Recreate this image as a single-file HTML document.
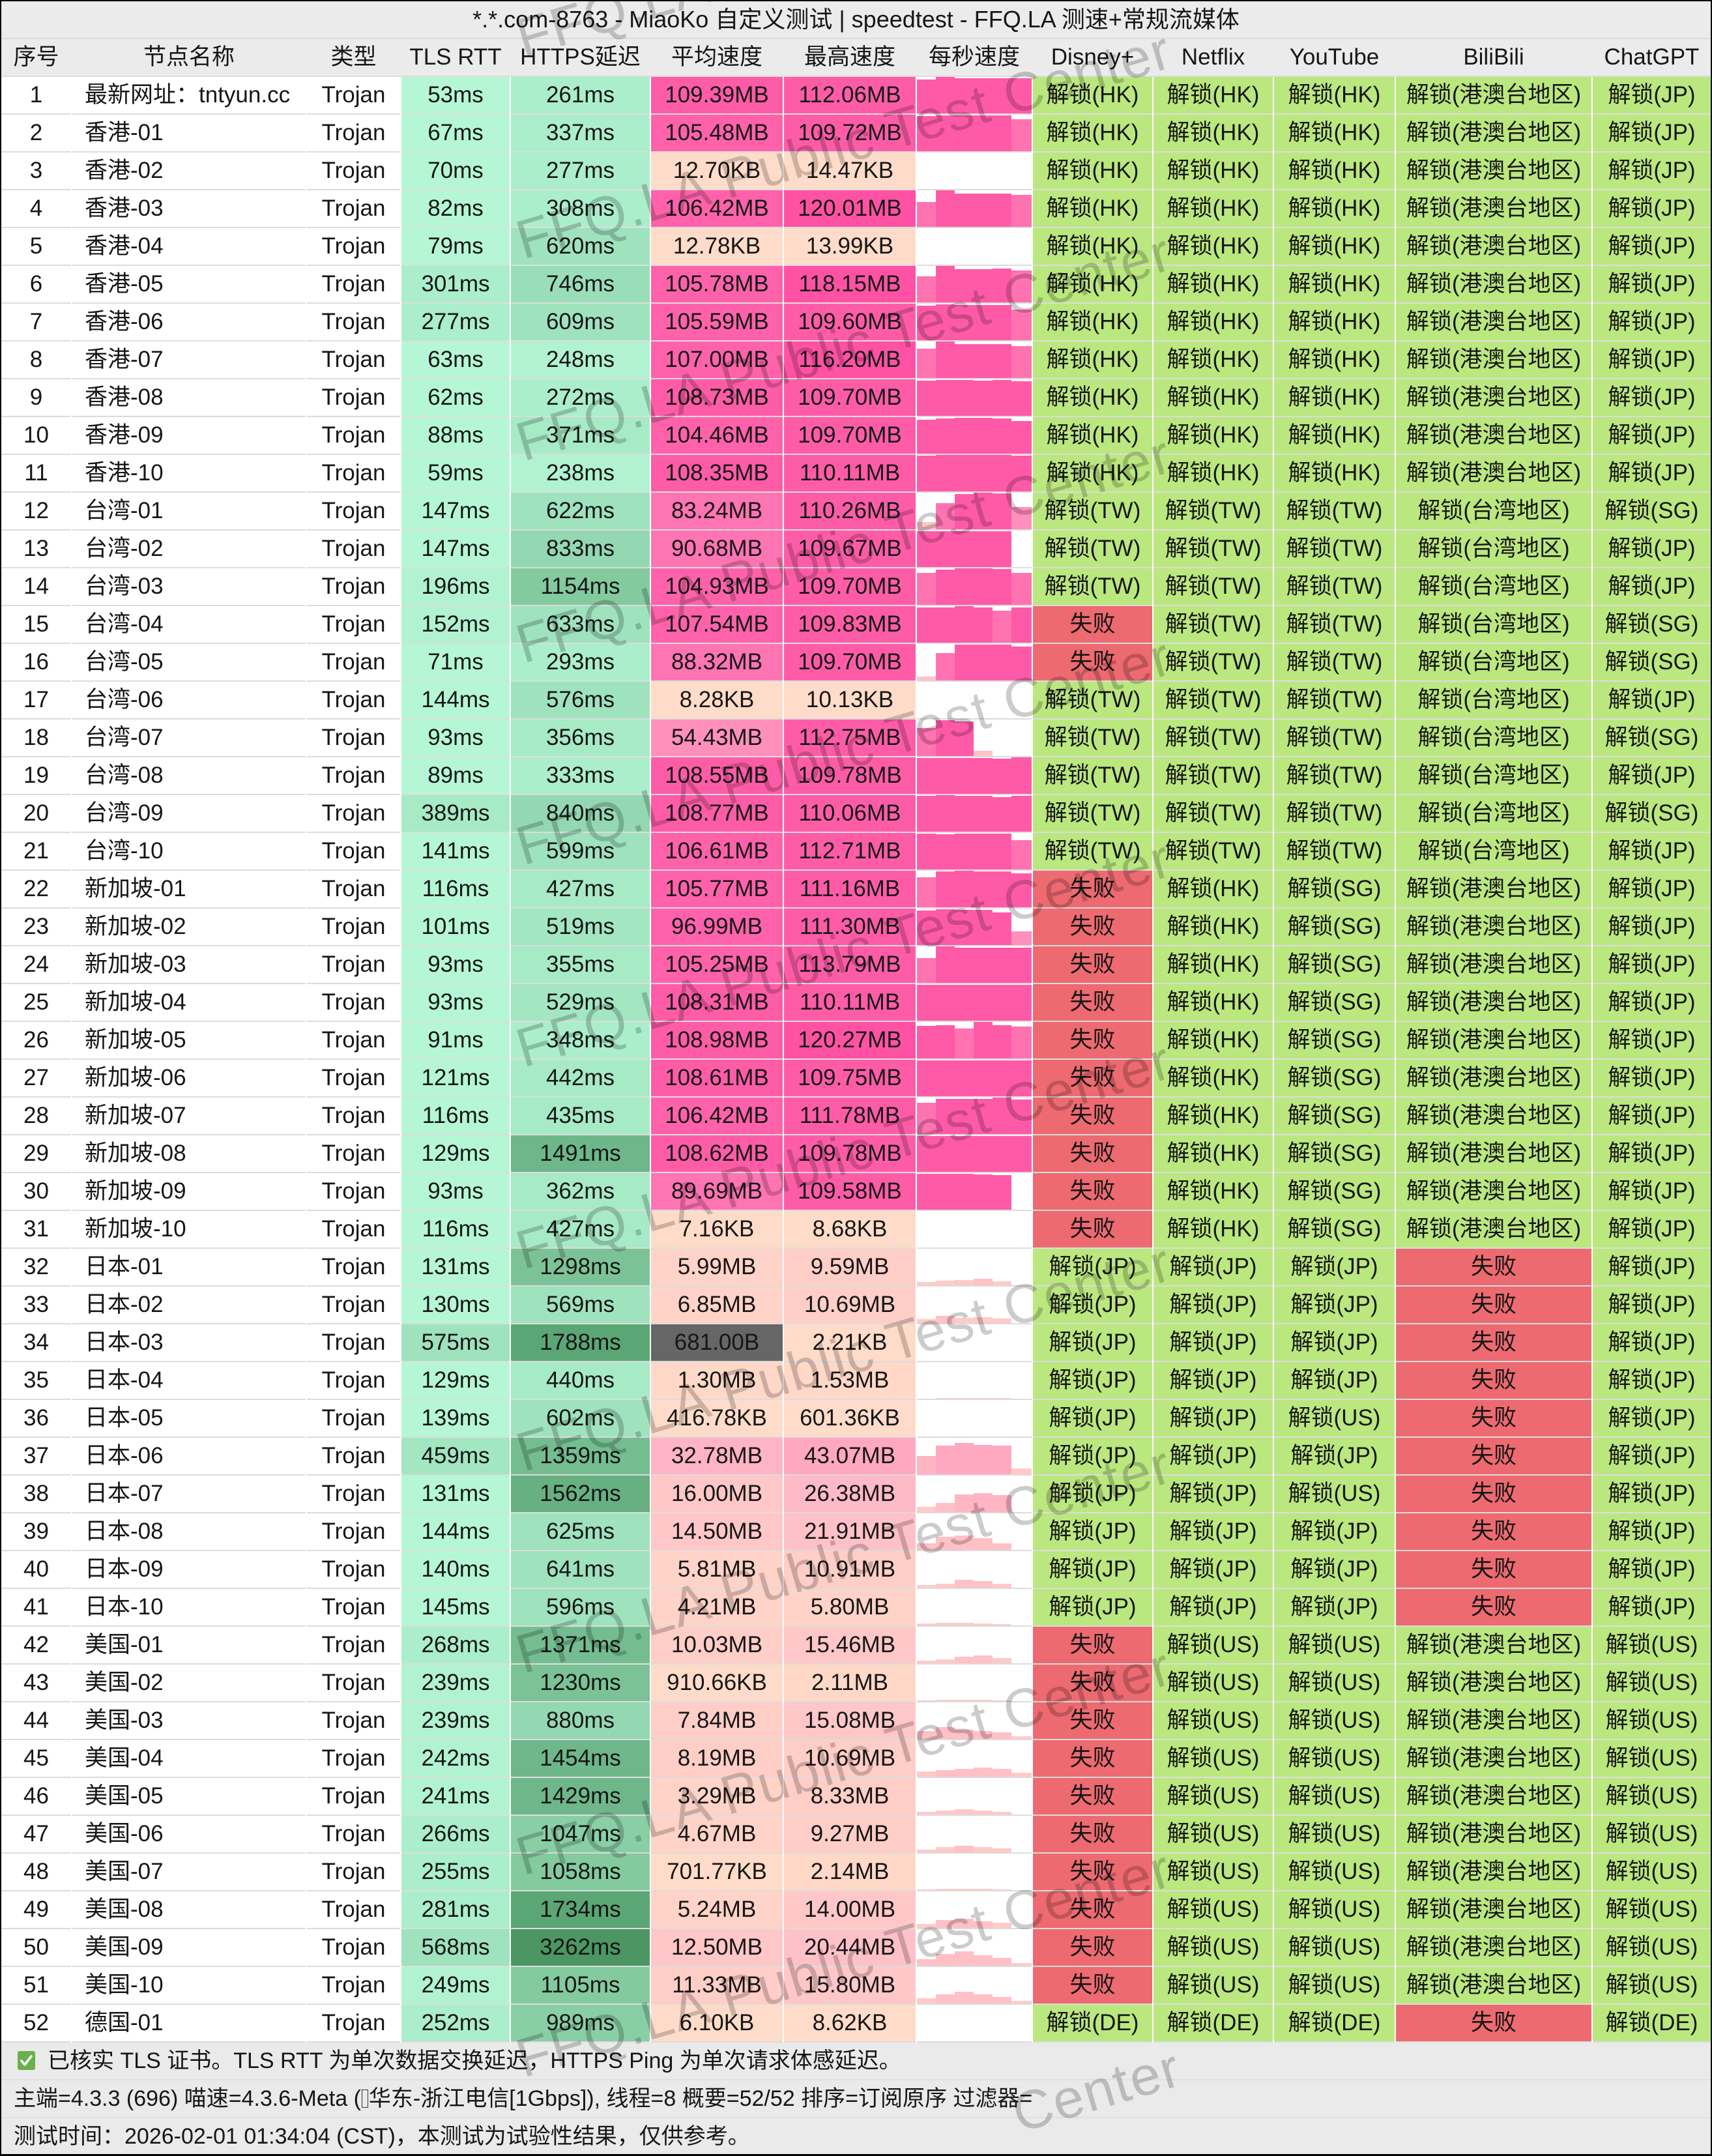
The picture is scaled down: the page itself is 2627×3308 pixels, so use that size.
<!DOCTYPE html>
<html><head><meta charset="utf-8">
<style>
*{margin:0;padding:0}
html,body{width:2627px;height:3308px;overflow:hidden}
body{background:#fff;font-family:"Liberation Sans","Noto Sans CJK SC",sans-serif;font-size:35px;color:#161616}
#w{position:relative;width:2627px;height:3308px;overflow:hidden}
.tt{position:absolute;left:0;top:2px;width:2627px;height:56px;line-height:56px;background:#ebebeb;text-align:center;font-size:36px;white-space:nowrap}
.hd{position:absolute;left:0;top:58px;width:2627px;height:56px;background:#ebebeb;border-top:2px solid #dcdcdc;border-bottom:2px solid #dcdcdc}
.hd>div{position:absolute;top:0;height:56px;line-height:56px;text-align:center;white-space:nowrap}
.r{position:absolute;left:0;width:2627px;height:58px}
.r>div{position:absolute;top:0;height:56px;line-height:56px;text-align:center;border-bottom:2px solid #dcdcdc;white-space:nowrap}
.ca{left:2px;width:107px}
.r>.cn{left:111px;width:339px;padding-left:19px;text-align:left}
.hd>.cn{left:111px;width:358px}
.cy{left:471px;width:143px}
.ct{left:616px;width:166px}
.ch{left:784px;width:213px}
.cs{left:999px;width:202px}
.cm{left:1203px;width:202px}
.cg{left:1407px;width:176px}
.cd{left:1585px;width:183px}
.cf{left:1770px;width:183px}
.cu{left:1955px;width:185px}
.cb{left:2142px;width:300px}
.cc{left:2444px;width:181px}
.cg i{position:absolute;bottom:0;display:block}
.p1{left:0;width:29px}.p2{left:29px;width:29px}.p3{left:58px;width:29px}.p4{left:87px;width:29px}.p5{left:116px;width:29px}.p6{left:145px;width:31px}
.k1{background:#ff5aa8}.k2{background:#ff73b1}.k3{background:#ff8fbd}.k4{background:#ffc4c6}
.k5{background:#ffa9c0}.k6{background:#ffb5c4}.k7{background:#ffc0c6}.k8{background:#ffcac8}
.L1{background:#b5f7d5}.L2{background:#b1f3d1}.L3{background:#abeecb}.L4{background:#a7eac6}.L5{background:#a3e6c2}.L6{background:#9ee2be}.L7{background:#99deb9}.L8{background:#93d8b2}.L9{background:#89cfa6}.L10{background:#83ca9f}.L11{background:#7bc397}.L12{background:#74bd90}.L13{background:#6db78a}.L14{background:#66b082}.L15{background:#5ba675}.L16{background:#4b9663}
.S0{background:#ffdcc9}.S1{background:#ffd8c8}.S2{background:#ffd3c7}.S3{background:#ffcec7}.S4{background:#ffc7c8}.S5{background:#ffc1c8}.S6{background:#ffbac7}.S7{background:#ffb4c5}.S8{background:#ffa8c0}.S9{background:#ff90bb}.S10{background:#ff74b3}.S11{background:#ff62ab}.S12{background:#ff5ca8}.S13{background:#ff52a4}.SX{background:#666}
.G{background:#bbe77f}.R{background:#ed6a71}
.ft{position:absolute;left:0;width:2627px;height:56px;line-height:56px;background:#eaeaea;font-size:34px;border-bottom:2px solid #e0e0e0;white-space:nowrap;overflow:hidden}
.tofu{display:inline-block;width:8px;height:26px;border:1.5px solid #333;vertical-align:-3px;margin:0 1px}
</style></head><body><div id="w">

<div class="tt">*.*.com-8763 - MiaoKo 自定义测试 | speedtest - FFQ.LA 测速+常规流媒体</div>
<div class="hd"><div class="ca">序号</div><div class="cn">节点名称</div><div class="cy">类型</div><div class="ct">TLS RTT</div><div class="ch">HTTPS延迟</div><div class="cs">平均速度</div><div class="cm">最高速度</div><div class="cg">每秒速度</div><div class="cd">Disney+</div><div class="cf">Netflix</div><div class="cu">YouTube</div><div class="cb">BiliBili</div><div class="cc">ChatGPT</div></div>

<div class="r" style="top:118px"><div class="ca">1</div><div class="cn">最新网址：tntyun.cc</div><div class="cy">Trojan</div><div class="ct L1">53ms</div><div class="ch L3">261ms</div><div class="cs S12">109.39MB</div><div class="cm S12">112.06MB</div><div class="cg"><i class="p1 k1" style="height:52px"></i><i class="p2 k1" style="height:56px"></i><i class="p3 k1" style="height:54px"></i><i class="p4 k1" style="height:54px"></i><i class="p5 k1" style="height:54px"></i><i class="p6 k1" style="height:54px"></i></div><div class="cd G">解锁(HK)</div><div class="cf G">解锁(HK)</div><div class="cu G">解锁(HK)</div><div class="cb G">解锁(港澳台地区)</div><div class="cc G">解锁(JP)</div></div>
<div class="r" style="top:176px"><div class="ca">2</div><div class="cn">香港-01</div><div class="cy">Trojan</div><div class="ct L1">67ms</div><div class="ch L3">337ms</div><div class="cs S11">105.48MB</div><div class="cm S12">109.72MB</div><div class="cg"><i class="p1 k1" style="height:54px"></i><i class="p2 k1" style="height:55px"></i><i class="p3 k1" style="height:55px"></i><i class="p4 k1" style="height:55px"></i><i class="p5 k1" style="height:55px"></i><i class="p6 k2" style="height:49px"></i></div><div class="cd G">解锁(HK)</div><div class="cf G">解锁(HK)</div><div class="cu G">解锁(HK)</div><div class="cb G">解锁(港澳台地区)</div><div class="cc G">解锁(JP)</div></div>
<div class="r" style="top:234px"><div class="ca">3</div><div class="cn">香港-02</div><div class="cy">Trojan</div><div class="ct L1">70ms</div><div class="ch L3">277ms</div><div class="cs S0">12.70KB</div><div class="cm S0">14.47KB</div><div class="cg"></div><div class="cd G">解锁(HK)</div><div class="cf G">解锁(HK)</div><div class="cu G">解锁(HK)</div><div class="cb G">解锁(港澳台地区)</div><div class="cc G">解锁(JP)</div></div>
<div class="r" style="top:292px"><div class="ca">4</div><div class="cn">香港-03</div><div class="cy">Trojan</div><div class="ct L1">82ms</div><div class="ch L3">308ms</div><div class="cs S11">106.42MB</div><div class="cm S13">120.01MB</div><div class="cg"><i class="p1 k2" style="height:38px"></i><i class="p2 k1" style="height:56px"></i><i class="p3 k1" style="height:51px"></i><i class="p4 k1" style="height:51px"></i><i class="p5 k1" style="height:51px"></i><i class="p6 k2" style="height:49px"></i></div><div class="cd G">解锁(HK)</div><div class="cf G">解锁(HK)</div><div class="cu G">解锁(HK)</div><div class="cb G">解锁(港澳台地区)</div><div class="cc G">解锁(JP)</div></div>
<div class="r" style="top:350px"><div class="ca">5</div><div class="cn">香港-04</div><div class="cy">Trojan</div><div class="ct L1">79ms</div><div class="ch L6">620ms</div><div class="cs S0">12.78KB</div><div class="cm S0">13.99KB</div><div class="cg"></div><div class="cd G">解锁(HK)</div><div class="cf G">解锁(HK)</div><div class="cu G">解锁(HK)</div><div class="cb G">解锁(港澳台地区)</div><div class="cc G">解锁(JP)</div></div>
<div class="r" style="top:408px"><div class="ca">6</div><div class="cn">香港-05</div><div class="cy">Trojan</div><div class="ct L3">301ms</div><div class="ch L7">746ms</div><div class="cs S11">105.78MB</div><div class="cm S13">118.15MB</div><div class="cg"><i class="p1 k2" style="height:40px"></i><i class="p2 k1" style="height:56px"></i><i class="p3 k1" style="height:51px"></i><i class="p4 k1" style="height:51px"></i><i class="p5 k1" style="height:52px"></i><i class="p6 k2" style="height:49px"></i></div><div class="cd G">解锁(HK)</div><div class="cf G">解锁(HK)</div><div class="cu G">解锁(HK)</div><div class="cb G">解锁(港澳台地区)</div><div class="cc G">解锁(JP)</div></div>
<div class="r" style="top:466px"><div class="ca">7</div><div class="cn">香港-06</div><div class="cy">Trojan</div><div class="ct L3">277ms</div><div class="ch L6">609ms</div><div class="cs S11">105.59MB</div><div class="cm S12">109.60MB</div><div class="cg"><i class="p1 k1" style="height:53px"></i><i class="p2 k1" style="height:55px"></i><i class="p3 k1" style="height:54px"></i><i class="p4 k1" style="height:54px"></i><i class="p5 k1" style="height:54px"></i><i class="p6 k2" style="height:47px"></i></div><div class="cd G">解锁(HK)</div><div class="cf G">解锁(HK)</div><div class="cu G">解锁(HK)</div><div class="cb G">解锁(港澳台地区)</div><div class="cc G">解锁(JP)</div></div>
<div class="r" style="top:524px"><div class="ca">8</div><div class="cn">香港-07</div><div class="cy">Trojan</div><div class="ct L1">63ms</div><div class="ch L2">248ms</div><div class="cs S11">107.00MB</div><div class="cm S13">116.20MB</div><div class="cg"><i class="p1 k2" style="height:45px"></i><i class="p2 k1" style="height:56px"></i><i class="p3 k1" style="height:52px"></i><i class="p4 k1" style="height:52px"></i><i class="p5 k1" style="height:52px"></i><i class="p6 k2" style="height:49px"></i></div><div class="cd G">解锁(HK)</div><div class="cf G">解锁(HK)</div><div class="cu G">解锁(HK)</div><div class="cb G">解锁(港澳台地区)</div><div class="cc G">解锁(JP)</div></div>
<div class="r" style="top:582px"><div class="ca">9</div><div class="cn">香港-08</div><div class="cy">Trojan</div><div class="ct L1">62ms</div><div class="ch L3">272ms</div><div class="cs S12">108.73MB</div><div class="cm S12">109.70MB</div><div class="cg"><i class="p1 k1" style="height:54px"></i><i class="p2 k1" style="height:55px"></i><i class="p3 k1" style="height:55px"></i><i class="p4 k1" style="height:54px"></i><i class="p5 k1" style="height:55px"></i><i class="p6 k1" style="height:53px"></i></div><div class="cd G">解锁(HK)</div><div class="cf G">解锁(HK)</div><div class="cu G">解锁(HK)</div><div class="cb G">解锁(港澳台地区)</div><div class="cc G">解锁(JP)</div></div>
<div class="r" style="top:640px"><div class="ca">10</div><div class="cn">香港-09</div><div class="cy">Trojan</div><div class="ct L1">88ms</div><div class="ch L4">371ms</div><div class="cs S11">104.46MB</div><div class="cm S12">109.70MB</div><div class="cg"><i class="p1 k1" style="height:52px"></i><i class="p2 k1" style="height:54px"></i><i class="p3 k1" style="height:55px"></i><i class="p4 k1" style="height:55px"></i><i class="p5 k1" style="height:54px"></i><i class="p6 k1" style="height:50px"></i></div><div class="cd G">解锁(HK)</div><div class="cf G">解锁(HK)</div><div class="cu G">解锁(HK)</div><div class="cb G">解锁(港澳台地区)</div><div class="cc G">解锁(JP)</div></div>
<div class="r" style="top:698px"><div class="ca">11</div><div class="cn">香港-10</div><div class="cy">Trojan</div><div class="ct L1">59ms</div><div class="ch L2">238ms</div><div class="cs S12">108.35MB</div><div class="cm S12">110.11MB</div><div class="cg"><i class="p1 k1" style="height:55px"></i><i class="p2 k1" style="height:56px"></i><i class="p3 k1" style="height:56px"></i><i class="p4 k1" style="height:56px"></i><i class="p5 k1" style="height:56px"></i><i class="p6 k1" style="height:55px"></i></div><div class="cd G">解锁(HK)</div><div class="cf G">解锁(HK)</div><div class="cu G">解锁(HK)</div><div class="cb G">解锁(港澳台地区)</div><div class="cc G">解锁(JP)</div></div>
<div class="r" style="top:756px"><div class="ca">12</div><div class="cn">台湾-01</div><div class="cy">Trojan</div><div class="ct L1">147ms</div><div class="ch L6">622ms</div><div class="cs S10">83.24MB</div><div class="cm S12">110.26MB</div><div class="cg"><i class="p1 k4" style="height:11px"></i><i class="p2 k2" style="height:40px"></i><i class="p3 k1" style="height:54px"></i><i class="p4 k1" style="height:56px"></i><i class="p5 k1" style="height:55px"></i><i class="p6 k3" style="height:34px"></i></div><div class="cd G">解锁(TW)</div><div class="cf G">解锁(TW)</div><div class="cu G">解锁(TW)</div><div class="cb G">解锁(台湾地区)</div><div class="cc G">解锁(SG)</div></div>
<div class="r" style="top:814px"><div class="ca">13</div><div class="cn">台湾-02</div><div class="cy">Trojan</div><div class="ct L1">147ms</div><div class="ch L8">833ms</div><div class="cs S10">90.68MB</div><div class="cm S12">109.67MB</div><div class="cg"><i class="p1 k1" style="height:55px"></i><i class="p2 k1" style="height:55px"></i><i class="p3 k1" style="height:55px"></i><i class="p4 k1" style="height:55px"></i><i class="p5 k1" style="height:55px"></i></div><div class="cd G">解锁(TW)</div><div class="cf G">解锁(TW)</div><div class="cu G">解锁(TW)</div><div class="cb G">解锁(台湾地区)</div><div class="cc G">解锁(JP)</div></div>
<div class="r" style="top:872px"><div class="ca">14</div><div class="cn">台湾-03</div><div class="cy">Trojan</div><div class="ct L2">196ms</div><div class="ch L10">1154ms</div><div class="cs S11">104.93MB</div><div class="cm S12">109.70MB</div><div class="cg"><i class="p1 k2" style="height:49px"></i><i class="p2 k1" style="height:54px"></i><i class="p3 k1" style="height:56px"></i><i class="p4 k1" style="height:56px"></i><i class="p5 k1" style="height:55px"></i><i class="p6 k2" style="height:49px"></i></div><div class="cd G">解锁(TW)</div><div class="cf G">解锁(TW)</div><div class="cu G">解锁(TW)</div><div class="cb G">解锁(台湾地区)</div><div class="cc G">解锁(JP)</div></div>
<div class="r" style="top:930px"><div class="ca">15</div><div class="cn">台湾-04</div><div class="cy">Trojan</div><div class="ct L2">152ms</div><div class="ch L6">633ms</div><div class="cs S11">107.54MB</div><div class="cm S12">109.83MB</div><div class="cg"><i class="p1 k1" style="height:54px"></i><i class="p2 k1" style="height:54px"></i><i class="p3 k1" style="height:56px"></i><i class="p4 k1" style="height:54px"></i><i class="p5 k2" style="height:49px"></i><i class="p6 k1" style="height:54px"></i></div><div class="cd R">失败</div><div class="cf G">解锁(TW)</div><div class="cu G">解锁(TW)</div><div class="cb G">解锁(台湾地区)</div><div class="cc G">解锁(SG)</div></div>
<div class="r" style="top:988px"><div class="ca">16</div><div class="cn">台湾-05</div><div class="cy">Trojan</div><div class="ct L1">71ms</div><div class="ch L3">293ms</div><div class="cs S10">88.32MB</div><div class="cm S12">109.70MB</div><div class="cg"><i class="p1 k4" style="height:6px"></i><i class="p2 k2" style="height:42px"></i><i class="p3 k1" style="height:55px"></i><i class="p4 k1" style="height:55px"></i><i class="p5 k1" style="height:55px"></i><i class="p6 k1" style="height:52px"></i></div><div class="cd R">失败</div><div class="cf G">解锁(TW)</div><div class="cu G">解锁(TW)</div><div class="cb G">解锁(台湾地区)</div><div class="cc G">解锁(SG)</div></div>
<div class="r" style="top:1046px"><div class="ca">17</div><div class="cn">台湾-06</div><div class="cy">Trojan</div><div class="ct L1">144ms</div><div class="ch L6">576ms</div><div class="cs S0">8.28KB</div><div class="cm S0">10.13KB</div><div class="cg"></div><div class="cd G">解锁(TW)</div><div class="cf G">解锁(TW)</div><div class="cu G">解锁(TW)</div><div class="cb G">解锁(台湾地区)</div><div class="cc G">解锁(JP)</div></div>
<div class="r" style="top:1104px"><div class="ca">18</div><div class="cn">台湾-07</div><div class="cy">Trojan</div><div class="ct L1">93ms</div><div class="ch L4">356ms</div><div class="cs S9">54.43MB</div><div class="cm S12">112.75MB</div><div class="cg"><i class="p1 k2" style="height:43px"></i><i class="p2 k1" style="height:55px"></i><i class="p3 k1" style="height:53px"></i><i class="p4 k4" style="height:8px"></i></div><div class="cd G">解锁(TW)</div><div class="cf G">解锁(TW)</div><div class="cu G">解锁(TW)</div><div class="cb G">解锁(台湾地区)</div><div class="cc G">解锁(SG)</div></div>
<div class="r" style="top:1162px"><div class="ca">19</div><div class="cn">台湾-08</div><div class="cy">Trojan</div><div class="ct L1">89ms</div><div class="ch L3">333ms</div><div class="cs S12">108.55MB</div><div class="cm S12">109.78MB</div><div class="cg"><i class="p1 k1" style="height:55px"></i><i class="p2 k1" style="height:55px"></i><i class="p3 k1" style="height:55px"></i><i class="p4 k1" style="height:55px"></i><i class="p5 k1" style="height:54px"></i><i class="p6 k1" style="height:56px"></i></div><div class="cd G">解锁(TW)</div><div class="cf G">解锁(TW)</div><div class="cu G">解锁(TW)</div><div class="cb G">解锁(台湾地区)</div><div class="cc G">解锁(JP)</div></div>
<div class="r" style="top:1220px"><div class="ca">20</div><div class="cn">台湾-09</div><div class="cy">Trojan</div><div class="ct L4">389ms</div><div class="ch L8">840ms</div><div class="cs S12">108.77MB</div><div class="cm S12">110.06MB</div><div class="cg"><i class="p1 k1" style="height:55px"></i><i class="p2 k1" style="height:56px"></i><i class="p3 k1" style="height:55px"></i><i class="p4 k1" style="height:55px"></i><i class="p5 k1" style="height:53px"></i><i class="p6 k1" style="height:55px"></i></div><div class="cd G">解锁(TW)</div><div class="cf G">解锁(TW)</div><div class="cu G">解锁(TW)</div><div class="cb G">解锁(台湾地区)</div><div class="cc G">解锁(SG)</div></div>
<div class="r" style="top:1278px"><div class="ca">21</div><div class="cn">台湾-10</div><div class="cy">Trojan</div><div class="ct L1">141ms</div><div class="ch L6">599ms</div><div class="cs S11">106.61MB</div><div class="cm S12">112.71MB</div><div class="cg"><i class="p1 k1" style="height:55px"></i><i class="p2 k1" style="height:54px"></i><i class="p3 k1" style="height:55px"></i><i class="p4 k1" style="height:55px"></i><i class="p5 k1" style="height:55px"></i><i class="p6 k2" style="height:45px"></i></div><div class="cd G">解锁(TW)</div><div class="cf G">解锁(TW)</div><div class="cu G">解锁(TW)</div><div class="cb G">解锁(台湾地区)</div><div class="cc G">解锁(JP)</div></div>
<div class="r" style="top:1336px"><div class="ca">22</div><div class="cn">新加坡-01</div><div class="cy">Trojan</div><div class="ct L1">116ms</div><div class="ch L4">427ms</div><div class="cs S11">105.77MB</div><div class="cm S12">111.16MB</div><div class="cg"><i class="p1 k2" style="height:46px"></i><i class="p2 k1" style="height:55px"></i><i class="p3 k1" style="height:56px"></i><i class="p4 k1" style="height:55px"></i><i class="p5 k1" style="height:55px"></i><i class="p6 k1" style="height:52px"></i></div><div class="cd R">失败</div><div class="cf G">解锁(HK)</div><div class="cu G">解锁(SG)</div><div class="cb G">解锁(港澳台地区)</div><div class="cc G">解锁(JP)</div></div>
<div class="r" style="top:1394px"><div class="ca">23</div><div class="cn">新加坡-02</div><div class="cy">Trojan</div><div class="ct L1">101ms</div><div class="ch L5">519ms</div><div class="cs S11">96.99MB</div><div class="cm S12">111.30MB</div><div class="cg"><i class="p1 k1" style="height:53px"></i><i class="p2 k1" style="height:55px"></i><i class="p3 k1" style="height:54px"></i><i class="p4 k1" style="height:54px"></i><i class="p5 k1" style="height:50px"></i><i class="p6 k3" style="height:21px"></i></div><div class="cd R">失败</div><div class="cf G">解锁(HK)</div><div class="cu G">解锁(SG)</div><div class="cb G">解锁(港澳台地区)</div><div class="cc G">解锁(JP)</div></div>
<div class="r" style="top:1452px"><div class="ca">24</div><div class="cn">新加坡-03</div><div class="cy">Trojan</div><div class="ct L1">93ms</div><div class="ch L4">355ms</div><div class="cs S11">105.25MB</div><div class="cm S12">113.79MB</div><div class="cg"><i class="p1 k2" style="height:38px"></i><i class="p2 k1" style="height:56px"></i><i class="p3 k1" style="height:54px"></i><i class="p4 k1" style="height:54px"></i><i class="p5 k1" style="height:54px"></i><i class="p6 k1" style="height:54px"></i></div><div class="cd R">失败</div><div class="cf G">解锁(HK)</div><div class="cu G">解锁(SG)</div><div class="cb G">解锁(港澳台地区)</div><div class="cc G">解锁(JP)</div></div>
<div class="r" style="top:1510px"><div class="ca">25</div><div class="cn">新加坡-04</div><div class="cy">Trojan</div><div class="ct L1">93ms</div><div class="ch L5">529ms</div><div class="cs S12">108.31MB</div><div class="cm S12">110.11MB</div><div class="cg"><i class="p1 k1" style="height:55px"></i><i class="p2 k1" style="height:55px"></i><i class="p3 k1" style="height:55px"></i><i class="p4 k1" style="height:55px"></i><i class="p5 k1" style="height:55px"></i><i class="p6 k1" style="height:55px"></i></div><div class="cd R">失败</div><div class="cf G">解锁(HK)</div><div class="cu G">解锁(SG)</div><div class="cb G">解锁(港澳台地区)</div><div class="cc G">解锁(JP)</div></div>
<div class="r" style="top:1568px"><div class="ca">26</div><div class="cn">新加坡-05</div><div class="cy">Trojan</div><div class="ct L1">91ms</div><div class="ch L3">348ms</div><div class="cs S12">108.98MB</div><div class="cm S13">120.27MB</div><div class="cg"><i class="p1 k1" style="height:50px"></i><i class="p2 k1" style="height:51px"></i><i class="p3 k2" style="height:46px"></i><i class="p4 k1" style="height:56px"></i><i class="p5 k1" style="height:51px"></i><i class="p6 k2" style="height:49px"></i></div><div class="cd R">失败</div><div class="cf G">解锁(HK)</div><div class="cu G">解锁(SG)</div><div class="cb G">解锁(港澳台地区)</div><div class="cc G">解锁(JP)</div></div>
<div class="r" style="top:1626px"><div class="ca">27</div><div class="cn">新加坡-06</div><div class="cy">Trojan</div><div class="ct L1">121ms</div><div class="ch L4">442ms</div><div class="cs S12">108.61MB</div><div class="cm S12">109.75MB</div><div class="cg"><i class="p1 k1" style="height:55px"></i><i class="p2 k1" style="height:55px"></i><i class="p3 k1" style="height:55px"></i><i class="p4 k1" style="height:55px"></i><i class="p5 k1" style="height:55px"></i><i class="p6 k1" style="height:55px"></i></div><div class="cd R">失败</div><div class="cf G">解锁(HK)</div><div class="cu G">解锁(SG)</div><div class="cb G">解锁(港澳台地区)</div><div class="cc G">解锁(JP)</div></div>
<div class="r" style="top:1684px"><div class="ca">28</div><div class="cn">新加坡-07</div><div class="cy">Trojan</div><div class="ct L1">116ms</div><div class="ch L4">435ms</div><div class="cs S11">106.42MB</div><div class="cm S12">111.78MB</div><div class="cg"><i class="p1 k2" style="height:48px"></i><i class="p2 k1" style="height:54px"></i><i class="p3 k1" style="height:54px"></i><i class="p4 k1" style="height:54px"></i><i class="p5 k1" style="height:56px"></i><i class="p6 k1" style="height:53px"></i></div><div class="cd R">失败</div><div class="cf G">解锁(HK)</div><div class="cu G">解锁(SG)</div><div class="cb G">解锁(港澳台地区)</div><div class="cc G">解锁(JP)</div></div>
<div class="r" style="top:1742px"><div class="ca">29</div><div class="cn">新加坡-08</div><div class="cy">Trojan</div><div class="ct L1">129ms</div><div class="ch L13">1491ms</div><div class="cs S12">108.62MB</div><div class="cm S12">109.78MB</div><div class="cg"><i class="p1 k1" style="height:55px"></i><i class="p2 k1" style="height:55px"></i><i class="p3 k1" style="height:55px"></i><i class="p4 k1" style="height:55px"></i><i class="p5 k1" style="height:55px"></i><i class="p6 k1" style="height:55px"></i></div><div class="cd R">失败</div><div class="cf G">解锁(HK)</div><div class="cu G">解锁(SG)</div><div class="cb G">解锁(港澳台地区)</div><div class="cc G">解锁(JP)</div></div>
<div class="r" style="top:1800px"><div class="ca">30</div><div class="cn">新加坡-09</div><div class="cy">Trojan</div><div class="ct L1">93ms</div><div class="ch L4">362ms</div><div class="cs S10">89.69MB</div><div class="cm S12">109.58MB</div><div class="cg"><i class="p1 k1" style="height:55px"></i><i class="p2 k1" style="height:55px"></i><i class="p3 k1" style="height:55px"></i><i class="p4 k1" style="height:54px"></i><i class="p5 k1" style="height:53px"></i></div><div class="cd R">失败</div><div class="cf G">解锁(HK)</div><div class="cu G">解锁(SG)</div><div class="cb G">解锁(港澳台地区)</div><div class="cc G">解锁(JP)</div></div>
<div class="r" style="top:1858px"><div class="ca">31</div><div class="cn">新加坡-10</div><div class="cy">Trojan</div><div class="ct L1">116ms</div><div class="ch L4">427ms</div><div class="cs S0">7.16KB</div><div class="cm S0">8.68KB</div><div class="cg"></div><div class="cd R">失败</div><div class="cf G">解锁(HK)</div><div class="cu G">解锁(SG)</div><div class="cb G">解锁(港澳台地区)</div><div class="cc G">解锁(JP)</div></div>
<div class="r" style="top:1916px"><div class="ca">32</div><div class="cn">日本-01</div><div class="cy">Trojan</div><div class="ct L1">131ms</div><div class="ch L11">1298ms</div><div class="cs S2">5.99MB</div><div class="cm S3">9.59MB</div><div class="cg"><i class="p1 k8" style="height:5px"></i><i class="p2 k8" style="height:7px"></i><i class="p3 k8" style="height:8px"></i><i class="p4 k7" style="height:10px"></i><i class="p5 k8" style="height:6px"></i></div><div class="cd G">解锁(JP)</div><div class="cf G">解锁(JP)</div><div class="cu G">解锁(JP)</div><div class="cb R">失败</div><div class="cc G">解锁(JP)</div></div>
<div class="r" style="top:1974px"><div class="ca">33</div><div class="cn">日本-02</div><div class="cy">Trojan</div><div class="ct L1">130ms</div><div class="ch L6">569ms</div><div class="cs S2">6.85MB</div><div class="cm S3">10.69MB</div><div class="cg"><i class="p1 k8" style="height:6px"></i><i class="p2 k7" style="height:11px"></i><i class="p3 k8" style="height:8px"></i><i class="p4 k8" style="height:9px"></i><i class="p5 k8" style="height:7px"></i></div><div class="cd G">解锁(JP)</div><div class="cf G">解锁(JP)</div><div class="cu G">解锁(JP)</div><div class="cb R">失败</div><div class="cc G">解锁(JP)</div></div>
<div class="r" style="top:2032px"><div class="ca">34</div><div class="cn">日本-03</div><div class="cy">Trojan</div><div class="ct L6">575ms</div><div class="ch L15">1788ms</div><div class="cs SX">681.00B</div><div class="cm S0">2.21KB</div><div class="cg"></div><div class="cd G">解锁(JP)</div><div class="cf G">解锁(JP)</div><div class="cu G">解锁(JP)</div><div class="cb R">失败</div><div class="cc G">解锁(JP)</div></div>
<div class="r" style="top:2090px"><div class="ca">35</div><div class="cn">日本-04</div><div class="cy">Trojan</div><div class="ct L1">129ms</div><div class="ch L4">440ms</div><div class="cs S1">1.30MB</div><div class="cm S1">1.53MB</div><div class="cg"><i class="p2 k8" style="height:1px"></i><i class="p3 k8" style="height:1px"></i><i class="p4 k8" style="height:1px"></i><i class="p5 k8" style="height:1px"></i></div><div class="cd G">解锁(JP)</div><div class="cf G">解锁(JP)</div><div class="cu G">解锁(JP)</div><div class="cb R">失败</div><div class="cc G">解锁(JP)</div></div>
<div class="r" style="top:2148px"><div class="ca">36</div><div class="cn">日本-05</div><div class="cy">Trojan</div><div class="ct L1">139ms</div><div class="ch L6">602ms</div><div class="cs S0">416.78KB</div><div class="cm S0">601.36KB</div><div class="cg"></div><div class="cd G">解锁(JP)</div><div class="cf G">解锁(JP)</div><div class="cu G">解锁(US)</div><div class="cb R">失败</div><div class="cc G">解锁(JP)</div></div>
<div class="r" style="top:2206px"><div class="ca">37</div><div class="cn">日本-06</div><div class="cy">Trojan</div><div class="ct L5">459ms</div><div class="ch L12">1359ms</div><div class="cs S7">32.78MB</div><div class="cm S8">43.07MB</div><div class="cg"><i class="p1 k6" style="height:28px"></i><i class="p2 k5" style="height:44px"></i><i class="p3 k5" style="height:48px"></i><i class="p4 k5" style="height:45px"></i><i class="p5 k5" style="height:44px"></i><i class="p6 k8" style="height:9px"></i></div><div class="cd G">解锁(JP)</div><div class="cf G">解锁(JP)</div><div class="cu G">解锁(JP)</div><div class="cb R">失败</div><div class="cc G">解锁(JP)</div></div>
<div class="r" style="top:2264px"><div class="ca">38</div><div class="cn">日本-07</div><div class="cy">Trojan</div><div class="ct L1">131ms</div><div class="ch L14">1562ms</div><div class="cs S4">16.00MB</div><div class="cm S6">26.38MB</div><div class="cg"><i class="p1 k8" style="height:8px"></i><i class="p2 k7" style="height:14px"></i><i class="p3 k6" style="height:27px"></i><i class="p4 k6" style="height:29px"></i><i class="p5 k6" style="height:26px"></i></div><div class="cd G">解锁(JP)</div><div class="cf G">解锁(JP)</div><div class="cu G">解锁(US)</div><div class="cb R">失败</div><div class="cc G">解锁(JP)</div></div>
<div class="r" style="top:2322px"><div class="ca">39</div><div class="cn">日本-08</div><div class="cy">Trojan</div><div class="ct L1">144ms</div><div class="ch L6">625ms</div><div class="cs S4">14.50MB</div><div class="cm S5">21.91MB</div><div class="cg"><i class="p1 k7" style="height:10px"></i><i class="p2 k7" style="height:20px"></i><i class="p3 k7" style="height:22px"></i><i class="p4 k7" style="height:18px"></i><i class="p5 k7" style="height:10px"></i></div><div class="cd G">解锁(JP)</div><div class="cf G">解锁(JP)</div><div class="cu G">解锁(JP)</div><div class="cb R">失败</div><div class="cc G">解锁(JP)</div></div>
<div class="r" style="top:2380px"><div class="ca">40</div><div class="cn">日本-09</div><div class="cy">Trojan</div><div class="ct L1">140ms</div><div class="ch L6">641ms</div><div class="cs S2">5.81MB</div><div class="cm S3">10.91MB</div><div class="cg"><i class="p1 k8" style="height:4px"></i><i class="p2 k8" style="height:6px"></i><i class="p3 k7" style="height:12px"></i><i class="p4 k7" style="height:10px"></i><i class="p5 k8" style="height:6px"></i></div><div class="cd G">解锁(JP)</div><div class="cf G">解锁(JP)</div><div class="cu G">解锁(JP)</div><div class="cb R">失败</div><div class="cc G">解锁(JP)</div></div>
<div class="r" style="top:2438px"><div class="ca">41</div><div class="cn">日本-10</div><div class="cy">Trojan</div><div class="ct L1">145ms</div><div class="ch L6">596ms</div><div class="cs S2">4.21MB</div><div class="cm S2">5.80MB</div><div class="cg"><i class="p1 k8" style="height:3px"></i><i class="p2 k8" style="height:4px"></i><i class="p3 k8" style="height:4px"></i><i class="p4 k8" style="height:3px"></i><i class="p5 k8" style="height:2px"></i></div><div class="cd G">解锁(JP)</div><div class="cf G">解锁(JP)</div><div class="cu G">解锁(JP)</div><div class="cb R">失败</div><div class="cc G">解锁(JP)</div></div>
<div class="r" style="top:2496px"><div class="ca">42</div><div class="cn">美国-01</div><div class="cy">Trojan</div><div class="ct L3">268ms</div><div class="ch L12">1371ms</div><div class="cs S3">10.03MB</div><div class="cm S4">15.46MB</div><div class="cg"><i class="p1 k8" style="height:4px"></i><i class="p2 k8" style="height:6px"></i><i class="p3 k7" style="height:10px"></i><i class="p4 k7" style="height:12px"></i><i class="p5 k8" style="height:8px"></i></div><div class="cd R">失败</div><div class="cf G">解锁(US)</div><div class="cu G">解锁(US)</div><div class="cb G">解锁(港澳台地区)</div><div class="cc G">解锁(US)</div></div>
<div class="r" style="top:2554px"><div class="ca">43</div><div class="cn">美国-02</div><div class="cy">Trojan</div><div class="ct L2">239ms</div><div class="ch L11">1230ms</div><div class="cs S0">910.66KB</div><div class="cm S1">2.11MB</div><div class="cg"><i class="p1 k8" style="height:1px"></i><i class="p2 k8" style="height:2px"></i><i class="p3 k8" style="height:2px"></i><i class="p4 k8" style="height:2px"></i><i class="p5 k8" style="height:1px"></i></div><div class="cd R">失败</div><div class="cf G">解锁(US)</div><div class="cu G">解锁(US)</div><div class="cb G">解锁(港澳台地区)</div><div class="cc G">解锁(US)</div></div>
<div class="r" style="top:2612px"><div class="ca">44</div><div class="cn">美国-03</div><div class="cy">Trojan</div><div class="ct L2">239ms</div><div class="ch L8">880ms</div><div class="cs S3">7.84MB</div><div class="cm S4">15.08MB</div><div class="cg"><i class="p1 k7" style="height:12px"></i><i class="p2 k7" style="height:18px"></i><i class="p3 k7" style="height:14px"></i><i class="p4 k7" style="height:12px"></i><i class="p5 k7" style="height:10px"></i><i class="p6 k8" style="height:4px"></i></div><div class="cd R">失败</div><div class="cf G">解锁(US)</div><div class="cu G">解锁(US)</div><div class="cb G">解锁(港澳台地区)</div><div class="cc G">解锁(US)</div></div>
<div class="r" style="top:2670px"><div class="ca">45</div><div class="cn">美国-04</div><div class="cy">Trojan</div><div class="ct L2">242ms</div><div class="ch L13">1454ms</div><div class="cs S3">8.19MB</div><div class="cm S3">10.69MB</div><div class="cg"><i class="p1 k8" style="height:8px"></i><i class="p2 k7" style="height:10px"></i><i class="p3 k7" style="height:12px"></i><i class="p4 k7" style="height:14px"></i><i class="p5 k7" style="height:12px"></i><i class="p6 k8" style="height:6px"></i></div><div class="cd R">失败</div><div class="cf G">解锁(US)</div><div class="cu G">解锁(US)</div><div class="cb G">解锁(港澳台地区)</div><div class="cc G">解锁(US)</div></div>
<div class="r" style="top:2728px"><div class="ca">46</div><div class="cn">美国-05</div><div class="cy">Trojan</div><div class="ct L2">241ms</div><div class="ch L13">1429ms</div><div class="cs S2">3.29MB</div><div class="cm S3">8.33MB</div><div class="cg"><i class="p1 k8" style="height:4px"></i><i class="p2 k8" style="height:6px"></i><i class="p3 k8" style="height:8px"></i><i class="p4 k8" style="height:6px"></i><i class="p5 k8" style="height:4px"></i></div><div class="cd R">失败</div><div class="cf G">解锁(US)</div><div class="cu G">解锁(US)</div><div class="cb G">解锁(港澳台地区)</div><div class="cc G">解锁(US)</div></div>
<div class="r" style="top:2786px"><div class="ca">47</div><div class="cn">美国-06</div><div class="cy">Trojan</div><div class="ct L3">266ms</div><div class="ch L9">1047ms</div><div class="cs S2">4.67MB</div><div class="cm S3">9.27MB</div><div class="cg"><i class="p1 k8" style="height:4px"></i><i class="p2 k8" style="height:8px"></i><i class="p3 k7" style="height:10px"></i><i class="p4 k8" style="height:8px"></i><i class="p5 k8" style="height:6px"></i></div><div class="cd R">失败</div><div class="cf G">解锁(US)</div><div class="cu G">解锁(US)</div><div class="cb G">解锁(港澳台地区)</div><div class="cc G">解锁(US)</div></div>
<div class="r" style="top:2844px"><div class="ca">48</div><div class="cn">美国-07</div><div class="cy">Trojan</div><div class="ct L3">255ms</div><div class="ch L10">1058ms</div><div class="cs S0">701.77KB</div><div class="cm S1">2.14MB</div><div class="cg"><i class="p1 k8" style="height:1px"></i><i class="p2 k8" style="height:2px"></i><i class="p3 k8" style="height:2px"></i><i class="p4 k8" style="height:2px"></i><i class="p5 k8" style="height:1px"></i></div><div class="cd R">失败</div><div class="cf G">解锁(US)</div><div class="cu G">解锁(US)</div><div class="cb G">解锁(港澳台地区)</div><div class="cc G">解锁(US)</div></div>
<div class="r" style="top:2902px"><div class="ca">49</div><div class="cn">美国-08</div><div class="cy">Trojan</div><div class="ct L3">281ms</div><div class="ch L15">1734ms</div><div class="cs S2">5.24MB</div><div class="cm S4">14.00MB</div><div class="cg"><i class="p1 k8" style="height:6px"></i><i class="p2 k7" style="height:12px"></i><i class="p3 k7" style="height:14px"></i><i class="p4 k7" style="height:10px"></i><i class="p5 k8" style="height:8px"></i></div><div class="cd R">失败</div><div class="cf G">解锁(US)</div><div class="cu G">解锁(US)</div><div class="cb G">解锁(港澳台地区)</div><div class="cc G">解锁(US)</div></div>
<div class="r" style="top:2960px"><div class="ca">50</div><div class="cn">美国-09</div><div class="cy">Trojan</div><div class="ct L6">568ms</div><div class="ch L16">3262ms</div><div class="cs S4">12.50MB</div><div class="cm S5">20.44MB</div><div class="cg"><i class="p1 k7" style="height:10px"></i><i class="p2 k7" style="height:18px"></i><i class="p3 k7" style="height:22px"></i><i class="p4 k7" style="height:16px"></i><i class="p5 k7" style="height:12px"></i><i class="p6 k8" style="height:4px"></i></div><div class="cd R">失败</div><div class="cf G">解锁(US)</div><div class="cu G">解锁(US)</div><div class="cb G">解锁(港澳台地区)</div><div class="cc G">解锁(US)</div></div>
<div class="r" style="top:3018px"><div class="ca">51</div><div class="cn">美国-10</div><div class="cy">Trojan</div><div class="ct L2">249ms</div><div class="ch L10">1105ms</div><div class="cs S3">11.33MB</div><div class="cm S4">15.80MB</div><div class="cg"><i class="p1 k8" style="height:8px"></i><i class="p2 k7" style="height:14px"></i><i class="p3 k7" style="height:18px"></i><i class="p4 k7" style="height:14px"></i><i class="p5 k7" style="height:10px"></i><i class="p6 k8" style="height:4px"></i></div><div class="cd R">失败</div><div class="cf G">解锁(US)</div><div class="cu G">解锁(US)</div><div class="cb G">解锁(港澳台地区)</div><div class="cc G">解锁(US)</div></div>
<div class="r" style="top:3076px"><div class="ca">52</div><div class="cn">德国-01</div><div class="cy">Trojan</div><div class="ct L3">252ms</div><div class="ch L9">989ms</div><div class="cs S0">6.10KB</div><div class="cm S0">8.62KB</div><div class="cg"></div><div class="cd G">解锁(DE)</div><div class="cf G">解锁(DE)</div><div class="cu G">解锁(DE)</div><div class="cb R">失败</div><div class="cc G">解锁(DE)</div></div>

<div class="ft" style="top:3134px"><div style="position:absolute;left:27px;top:13px;width:27px;height:29px;background:#6ab04c;border-radius:3px"><svg width="27" height="29" style="position:absolute;left:0;top:0"><polyline points="6,15 11,21 21,8" stroke="#fff" stroke-width="3.5" fill="none" stroke-linecap="round" stroke-linejoin="round"/></svg></div><span style="position:absolute;left:73px;top:0">已核实 TLS 证书。TLS RTT 为单次数据交换延迟，HTTPS Ping 为单次请求体感延迟。</span></div>
<div class="ft" style="top:3192px"><span style="position:absolute;left:21px;top:0">主端=4.3.3 (696) 喵速=4.3.6-Meta (<span class="tofu"></span>华东-浙江电信[1Gbps]), 线程=8 概要=52/52 排序=订阅原序 过滤器=</span></div>
<div class="ft" style="top:3250px;height:58px;border-bottom:none"><span style="position:absolute;left:21px;top:0">测试时间：2026-02-01 01:34:04 (CST)，本测试为试验性结果，仅供参考。</span></div>

<svg width="2627" height="3308" style="position:absolute;left:0;top:0;overflow:hidden" font-family="Liberation Sans, sans-serif" font-size="84" letter-spacing="2" fill="#000" fill-opacity="0.2">
<text x="803" y="88" transform="rotate(-16.5 803 88)">FFQ.LA Public Test Center</text>
<text x="803" y="398" transform="rotate(-16.5 803 398)">FFQ.LA Public Test Center</text>
<text x="803" y="708" transform="rotate(-16.5 803 708)">FFQ.LA Public Test Center</text>
<text x="803" y="1018" transform="rotate(-16.5 803 1018)">FFQ.LA Public Test Center</text>
<text x="803" y="1328" transform="rotate(-16.5 803 1328)">FFQ.LA Public Test Center</text>
<text x="803" y="1638" transform="rotate(-16.5 803 1638)">FFQ.LA Public Test Center</text>
<text x="803" y="1948" transform="rotate(-16.5 803 1948)">FFQ.LA Public Test Center</text>
<text x="803" y="2258" transform="rotate(-16.5 803 2258)">FFQ.LA Public Test Center</text>
<text x="803" y="2568" transform="rotate(-16.5 803 2568)">FFQ.LA Public Test Center</text>
<text x="803" y="2878" transform="rotate(-16.5 803 2878)">FFQ.LA Public Test Center</text>
<text x="803" y="3188" transform="rotate(-16.5 803 3188)">FFQ.LA Public Test Center</text>
<text x="1597" y="3498" transform="rotate(-16.5 803 3498)">Center</text>
</svg>

<div style="position:absolute;left:0;top:0;width:2627px;height:3308px;box-sizing:border-box;border:2px solid #000;border-bottom-width:3px"></div>
</div></body></html>
